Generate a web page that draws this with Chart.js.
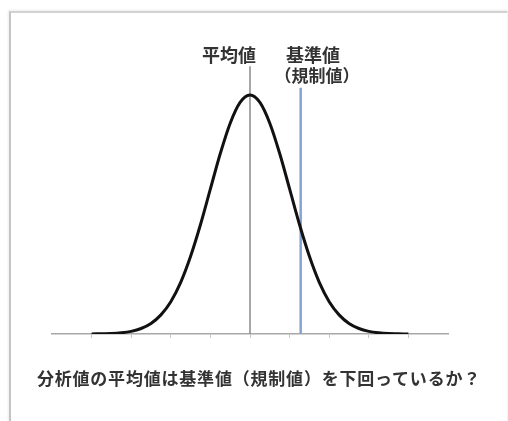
<!DOCTYPE html>
<html>
<head>
<meta charset="utf-8">
<script src="https://cdn.jsdelivr.net/npm/chart.js@4/dist/chart.umd.min.js"></script>
<style>
  html, body { margin: 0; padding: 0; background: #fff; }
  body { width: 508px; height: 421px; position: relative; overflow: hidden;
         font-family: "Noto Sans CJK JP", "Noto Sans", sans-serif; }
  .frame { position: absolute; left: 9px; top: 11px; width: 496px; height: 420px;
           border-left: 2px solid #c4c4c4; border-top: 2px solid #d2d2d2; border-right: 1px solid #f4f4f4;
           box-shadow: -1px -1px 2px rgba(0,0,0,0.08); }
  .wrap { position: absolute; left: 0; top: 0; width: 508px; height: 421px; }
  .lbl { position: absolute; font-weight: bold; font-size: 17px; color: #333; white-space: nowrap;
         transform: translate(-50%, -50%); line-height: 1; }
</style>
</head>
<body>
<div class="frame"></div>
<div class="wrap"><canvas id="normalChart" width="508" height="421"></canvas></div>
<div class="lbl" style="left:229px; top:54px; font-size:18px;">平均値</div>
<div class="lbl" style="left:313px; top:54px; font-size:18px;">基準値</div>
<div class="lbl" style="left:317px; top:74px;">（規制値）</div>
<div class="lbl" style="left:259px; top:377px; letter-spacing:0.8px;">分析値の平均値は基準値（規制値）を下回っているか？</div>
<script>
// x in units of standard deviation, height relative to the peak
const xValues = [-4, -3.75, -3.5, -3.25, -3, -2.75, -2.5, -2.25, -2, -1.75, -1.5, -1.25, -1, -0.75, -0.5, -0.25,
                 0, 0.25, 0.5, 0.75, 1, 1.25, 1.5, 1.75, 2, 2.25, 2.5, 2.75, 3, 3.25, 3.5, 3.75, 4];
const densityValues = [0, 0.1, 0.2, 0.5, 1.1, 2.3, 4.4, 8.0, 13.5, 21.6, 32.5, 45.8, 60.7, 75.5, 88.2, 96.9,
                       100, 96.9, 88.2, 75.5, 60.7, 45.8, 32.5, 21.6, 13.5, 8.0, 4.4, 2.3, 1.1, 0.5, 0.2, 0.1, 0];
const meanX = 0;
const meanLineTop = 112;
const standardX = 1.28;
const standardLineTop = 103;
const xTicks = [-5, 5];

const ctx = document.getElementById('normalChart');

new Chart(ctx, {
    type: 'line',
    data: {
        datasets: [
            {
                data: xValues.map((x, i) => ({ x: x, y: densityValues[i] })),
                borderColor: '#111',
                borderWidth: 3,
                pointRadius: 0,
                cubicInterpolationMode: 'monotone',
                order: 0
            },
            {
                data: [{ x: meanX, y: 0 }, { x: meanX, y: meanLineTop }],
                borderColor: '#8a8a8a',
                borderWidth: 1.5,
                pointRadius: 0,
                order: 2
            },
            {
                data: [{ x: standardX, y: 0 }, { x: standardX, y: standardLineTop }],
                borderColor: '#86a3cf',
                borderWidth: 2.5,
                pointRadius: 0,
                order: 1
            }
        ]
    },
    options: {
        responsive: false,
        animation: false,
        layout: { padding: { left: 52, right: 60, top: 40, bottom: 83 } },
        plugins: { legend: { display: false }, tooltip: { enabled: false } },
        scales: {
            x: {
                type: 'linear',
                min: xTicks[0],
                max: xTicks[1],
                ticks: { display: false, stepSize: 1 },
                grid: {
                    drawOnChartArea: false,
                    drawTicks: true,
                    tickLength: 4,
                    color: c => Math.abs(c.tick.value) === 5 ? 'rgba(0,0,0,0)' : '#c8c8c8'
                },
                border: { color: '#a8a8a8', width: 1.5 }
            },
            y: {
                display: false,
                min: 0,
                max: 123
            }
        }
    }
});
</script>
</body>
</html>
